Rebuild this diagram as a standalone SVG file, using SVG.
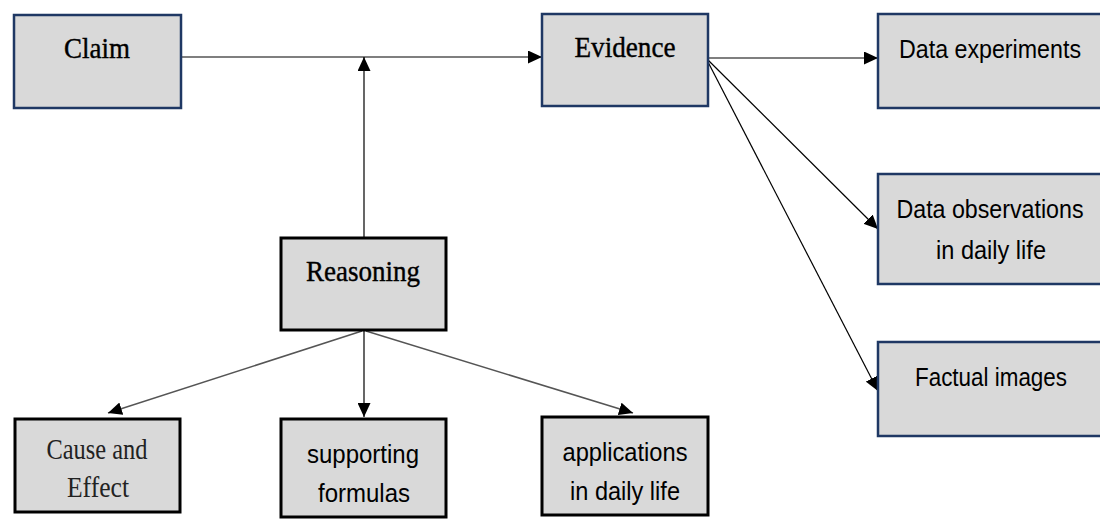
<svg xmlns="http://www.w3.org/2000/svg" width="1100" height="520" viewBox="0 0 1100 520">
<defs>
<marker id="ah" viewBox="0 0 14 13" refX="14" refY="6.5" markerWidth="14" markerHeight="13" markerUnits="userSpaceOnUse" orient="auto">
<path d="M0,0 L14,6.5 L0,13 z" fill="#000"/>
</marker>
<style>
.nb{fill:#d9d9d9;stroke:#1f3864;stroke-width:2.5}
.nf{fill:#d9d9d9;stroke:none}
.ne{fill:none;stroke:#1f3864;stroke-width:2.5}
.kb{fill:#d9d9d9;stroke:#000;stroke-width:3}
.ser{font-family:"Liberation Serif","Times New Roman",serif;font-size:30px;fill:#000;stroke:#000;stroke-width:0.4;text-anchor:middle}
.serr{font-family:"Liberation Serif","Times New Roman",serif;font-size:29px;fill:#222;text-anchor:middle}
.san{font-family:"Liberation Sans",Arial,sans-serif;font-size:26px;fill:#000;text-anchor:middle}
.sans{font-family:"Liberation Sans",Arial,sans-serif;font-size:21px;fill:#000;text-anchor:middle}
.ln{stroke:#000;stroke-width:1.2;fill:none;marker-end:url(#ah)}
.lg{stroke:#555;stroke-width:1.5;fill:none;marker-end:url(#ah)}
</style>
</defs>
<rect width="1100" height="520" fill="#fff"/>
<g id="connectors">
<line class="ln" x1="181" y1="57" x2="542" y2="57"/>
<line class="ln" x1="364" y1="237" x2="364" y2="57"/>
<line class="ln" x1="708" y1="58" x2="878" y2="58"/>
<line class="ln" x1="708" y1="60" x2="878" y2="229"/>
<line class="ln" x1="708" y1="62" x2="878" y2="391"/>
<line class="lg" x1="362" y1="331" x2="108" y2="413"/>
<line class="ln" x1="364" y1="331" x2="364" y2="417"/>
<line class="lg" x1="366" y1="331" x2="633" y2="413"/>
</g>
<g id="claim">
<rect class="nb" x="14" y="15" width="167" height="93"/>
<text class="ser" x="97" y="58" textLength="66" lengthAdjust="spacingAndGlyphs">Claim</text>
</g>
<g id="evidence">
<rect class="nb" x="542" y="14" width="166" height="92"/>
<text class="ser" x="625" y="57" textLength="101" lengthAdjust="spacingAndGlyphs">Evidence</text>
</g>
<g id="data-experiments">
<rect class="nf" x="878" y="14" width="222" height="94"/>
<path class="ne" d="M1100,14 H878 V108 H1100"/>
<text class="sans" transform="translate(990,58) scale(1,1.238)" x="0" y="0" textLength="182" lengthAdjust="spacingAndGlyphs">Data experiments</text>
</g>
<g id="data-observations">
<rect class="nf" x="878" y="174" width="222" height="110"/>
<path class="ne" d="M1100,174 H878 V284 H1100"/>
<text class="sans" transform="translate(990,218) scale(1,1.238)" x="0" y="0" textLength="187" lengthAdjust="spacingAndGlyphs">Data observations</text>
<text class="san" x="991" y="259" textLength="110" lengthAdjust="spacingAndGlyphs">in daily life</text>
</g>
<g id="factual-images">
<rect class="nf" x="878" y="342" width="222" height="94"/>
<path class="ne" d="M1100,342 H878 V436 H1100"/>
<text class="san" x="991" y="386" textLength="152" lengthAdjust="spacingAndGlyphs">Factual images</text>
</g>
<g id="reasoning">
<rect class="kb" x="281" y="238" width="165" height="92"/>
<text class="ser" x="363" y="281" textLength="114" lengthAdjust="spacingAndGlyphs">Reasoning</text>
</g>
<g id="cause-effect">
<rect class="kb" x="15" y="419" width="165" height="93"/>
<text class="serr" x="97" y="459" textLength="101" lengthAdjust="spacingAndGlyphs">Cause and</text>
<text class="serr" x="98" y="497" textLength="62" lengthAdjust="spacingAndGlyphs">Effect</text>
</g>
<g id="supporting-formulas">
<rect class="kb" x="281" y="419" width="165" height="98"/>
<text class="san" x="363" y="463" textLength="112" lengthAdjust="spacingAndGlyphs">supporting</text>
<text class="san" x="364" y="502" textLength="92" lengthAdjust="spacingAndGlyphs">formulas</text>
</g>
<g id="applications">
<rect class="kb" x="542" y="417" width="166" height="98"/>
<text class="san" x="625" y="461" textLength="125" lengthAdjust="spacingAndGlyphs">applications</text>
<text class="san" x="625" y="500" textLength="110" lengthAdjust="spacingAndGlyphs">in daily life</text>
</g>
</svg>
